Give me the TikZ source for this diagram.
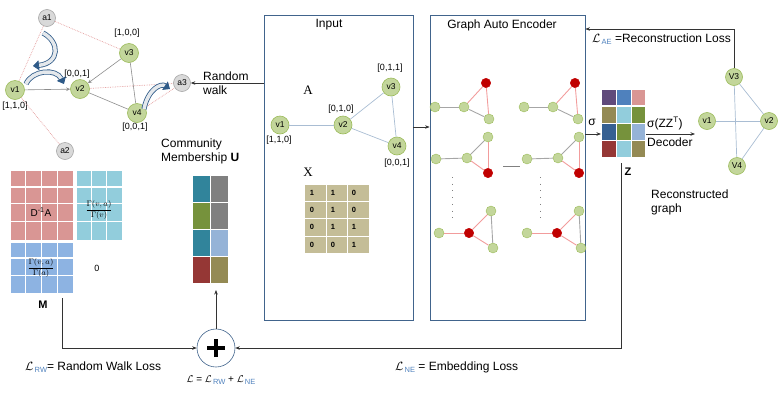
\documentclass[tikz,border=0pt]{standalone}
\usepackage{fontspec}
\setmainfont{Liberation Sans}
\newfontfamily\serifA{Liberation Serif}
\usetikzlibrary{arrows.meta}
\definecolor{vgreen}{HTML}{C3D69B}
\definecolor{vborder}{HTML}{9BBB59}
\definecolor{agray}{HTML}{D9D9D9}
\definecolor{aborder}{HTML}{A6A6A6}
\definecolor{dotpink}{HTML}{E39A9A}
\definecolor{edgegray}{HTML}{8C8C8C}
\definecolor{edgeblue}{HTML}{A9BDD3}
\definecolor{boxblue}{HTML}{41648C}
\definecolor{bendblue}{HTML}{2E5A88}
\definecolor{bendfill}{HTML}{E4E8EC}
\definecolor{tan}{HTML}{C4BD97}
\definecolor{gred}{HTML}{C00000}
\definecolor{gpink}{HTML}{F29C9C}
\definecolor{ggray}{HTML}{A6A6A6}
\definecolor{mred}{HTML}{D99694}
\definecolor{mcyan}{HTML}{92CDDC}
\definecolor{mblue}{HTML}{8DB3E2}
\definecolor{uteal}{HTML}{31849B}
\definecolor{ugray}{HTML}{808080}
\definecolor{ugreen}{HTML}{76923C}
\definecolor{ulblue}{HTML}{95B3D7}
\definecolor{udred}{HTML}{953735}
\definecolor{uolive}{HTML}{948A54}
\definecolor{zpurple}{HTML}{604A7B}
\definecolor{zblue}{HTML}{4F81BD}
\definecolor{zdblue}{HTML}{366092}
\definecolor{subblue}{HTML}{4F81BD}
\newcommand{\lsub}[1]{\raisebox{-2.5pt}{\fontsize{7.5}{8}\selectfont\color{subblue}\,#1}}
\begin{document}
\begin{tikzpicture}[x=1pt,y=-1pt,
  vn/.style={circle, draw=vborder, fill=vgreen, line width=0.6pt, inner sep=0pt, minimum size=19pt, font=\fontsize{8.5}{9}\selectfont},
  an/.style={vn, draw=aborder, fill=agray, minimum size=17pt},
  gn/.style={circle, draw=vborder, fill=vgreen, line width=0.4pt, inner sep=0pt, minimum size=10pt},
  rn/.style={gn, draw=gred, fill=gred, minimum size=9.5pt},
  gline/.style={line width=0.9pt},
  lbl/.style={font=\fontsize{9}{10}\selectfont, inner sep=0pt},
  txt/.style={font=\fontsize{12}{14}\selectfont, inner sep=0pt},
  box/.style={draw=boxblue, line width=0.8pt, minimum width=#1, minimum height=305pt, inner sep=0pt},
  cell/.style={draw=white, line width=0.8pt},
  arr/.style={-{Stealth[length=4.5pt,width=3.5pt]}, line width=0.6pt, draw=black!80},
  dotedge/.style={dotpink, densely dotted, line width=0.7pt},
  grayedge/.style={edgegray, line width=0.6pt},
  curvearrow/.style={draw=bendblue, double=bendfill, double distance=3.5pt, line width=0.8pt, -{Triangle[length=6pt,width=10pt]}}]
\useasboundingbox (0,0) rectangle (780,405);

% random walk graph
\node[an] (a1) at (47,18) {a1};
\node[an] (a2) at (65,151) {a2};
\node[an] (a3) at (182,83) {a3};
\node[vn] (v1) at (15,90) {v1};
\node[vn] (v2) at (80,89) {v2};
\node[vn] (v3) at (129,53) {v3};
\node[vn] (v4) at (137,113) {v4};
\node[lbl] at (127,33) {[1,0,0]};
\node[lbl] at (77,74) {[0,0,1]};
\node[lbl] at (15,106) {[1,1,0]};
\node[lbl] at (135,127) {[0,0,1]};
\draw[dotedge] (a1) -- (v1);
\draw[dotedge] (a1) -- (v3);
\draw[dotedge] (v1) -- (a2);
\draw[dotedge] (v2) -- (a3);
\draw[dotedge] (v4) -- (a3);
\draw[grayedge, -{Stealth[length=4pt,width=3.5pt]}] (v1) -- (v2);
\draw[grayedge, -{Stealth[length=4pt,width=3.5pt]}] (v3) -- (v2);
\draw[grayedge] (v2) -- (v4);
\draw[grayedge] (v3) -- (v4);
\draw[curvearrow] (43,33) .. controls (60,42) and (60,63) .. (33,66);
\draw[curvearrow] (26,84) .. controls (32,70) and (56,68) .. (64,84);
\draw[curvearrow] (144,109) .. controls (148,89) and (161,83) .. (170,89);
\node[txt, anchor=west, align=left] (rwtext) at (203,83) {Random\\walk};

% community membership
\node[txt, anchor=west, align=left] (utext) at (161,151) {Community\\Membership \textbf{U}};
\foreach \ya/\yb/\ca/\cb in {175/202/uteal/ugray, 202/229/ugreen/ugray, 229/256/uteal/ulblue, 256/283/udred/uolive} {
  \draw[cell, fill=\ca] (192,\ya) rectangle (210,\yb);
  \draw[cell, fill=\cb] (210,\ya) rectangle (228,\yb);
}
\coordinate (ubot) at (216,290);

% matrix M
\foreach \c in {0,...,3} {
  \foreach \ya/\yb in {170/186,187/203,203/221,221/240}
    \draw[cell, fill=mred] ({10+\c*15.75},\ya) rectangle ({10+(\c+1)*15.75},\yb);
  \foreach \ya/\yb in {242/257,258/275,275/293}
    \draw[cell, fill=mblue] ({10+\c*15.75},\ya) rectangle ({10+(\c+1)*15.75},\yb);
}
\foreach \c in {0,1,2}
  \foreach \ya/\yb in {170/186,187/203,203/221,221/240}
    \draw[cell, fill=mcyan] ({76+\c*15.33},\ya) rectangle ({76+(\c+1)*15.33},\yb);
\node[font=\fontsize{10}{11}\selectfont, inner sep=0pt] (dinv) at (41,212) {D\textsuperscript{-1}A};
\node[font=\fontsize{8}{9}\selectfont, inner sep=0pt] (gv) at (99,210) {$\displaystyle\frac{\Gamma(v,a)}{\Gamma(v)}$};
\node[font=\fontsize{8}{9}\selectfont, inner sep=0pt] (ga) at (41,268) {$\displaystyle\frac{\Gamma(v,a)}{\Gamma(a)}$};
\node[font=\fontsize{9}{10}\selectfont, inner sep=0pt] (zero) at (97,268) {0};
\node[font=\fontsize{11}{12}\selectfont\bfseries, inner sep=0pt] (mlbl) at (43,305) {M};
\coordinate (mout) at (62,298);

% input box
\node[box=149pt] (input) at (338.5,167.5) {};
\node[txt] (intitle) at (329,25) {Input};
\node[vn, minimum size=18pt] (i1) at (280,125) {v1};
\node[vn, minimum size=18pt] (i2) at (343,125) {v2};
\node[vn, minimum size=18pt] (i3) at (391,87) {v3};
\node[vn, minimum size=18pt] (i4) at (397,146) {v4};
\draw[edgeblue, line width=0.7pt] (i1) -- (i2);
\draw[edgeblue, line width=0.7pt] (i2) -- (i3);
\draw[edgeblue, line width=0.7pt] (i2) -- (i4);
\draw[edgeblue, line width=0.7pt] (i3) -- (i4);
\node[lbl] at (279,140) {[1,1,0]};
\node[lbl] at (341,109) {[0,1,0]};
\node[lbl] at (390,68) {[0,1,1]};
\node[lbl] at (397,163) {[0,0,1]};
\node[font=\serifA\fontsize{13}{14}\selectfont, inner sep=0pt] (alabel) at (308,90) {A};
\node[font=\serifA\fontsize{13}{14}\selectfont, inner sep=0pt] (xlabel) at (308,172) {X};
\foreach \ya/\yb/\p/\q/\r in {184/201/1/1/0, 201/218/0/1/0, 218/236/0/1/1, 236/253/0/0/1} {
  \draw[cell, fill=tan] (304,\ya) rectangle (326,\yb);
  \draw[cell, fill=tan] (326,\ya) rectangle (347,\yb);
  \draw[cell, fill=tan] (347,\ya) rectangle (369,\yb);
  \node[font=\fontsize{7.5}{8}\selectfont\bfseries, inner sep=0pt] at (312,{(\ya+\yb)/2}) {\p};
  \node[font=\fontsize{7.5}{8}\selectfont\bfseries, inner sep=0pt] at (333,{(\ya+\yb)/2}) {\q};
  \node[font=\fontsize{7.5}{8}\selectfont\bfseries, inner sep=0pt] at (354,{(\ya+\yb)/2}) {\r};
}

% graph auto encoder box
\node[box=155pt] (gae) at (507.5,167.5) {};
\node[txt] (gaetitle) at (502,25) {Graph Auto Encoder};
\foreach \s in {0,89} {
  \begin{scope}[xshift=\s]
    \node[gn] (pl\s) at (435,107) {};
    \node[gn] (pc\s) at (464,107) {};
    \node[rn] (pt\s) at (486,83) {};
    \node[gn] (pb\s) at (489,119) {};
    \draw[gline, ggray] (pl\s) -- (pc\s);
    \draw[gline, gpink] (pc\s) -- (pt\s);
    \draw[gline, ggray] (pc\s) -- (pb\s);
    \draw[gline, gpink] (pt\s) -- (pb\s);
  \end{scope}
}
\foreach \s in {0,91} {
  \begin{scope}[xshift=\s]
    \node[gn] (ql\s) at (436,159) {};
    \node[gn] (qc\s) at (467,158) {};
    \node[gn] (qt\s) at (488,137) {};
    \node[rn] (qb\s) at (488,173) {};
    \draw[gline, ggray] (ql\s) -- (qc\s);
    \draw[gline, ggray] (qc\s) -- (qt\s);
    \draw[gline, gpink] (qc\s) -- (qb\s);
    \draw[gline, gpink] (qt\s) -- (qb\s);
  \end{scope}
}
\foreach \s in {0,88} {
  \begin{scope}[xshift=\s]
    \node[gn] (sl\s) at (439,233) {};
    \node[rn] (sc\s) at (469,233) {};
    \node[gn] (st\s) at (491,211) {};
    \node[gn] (sb\s) at (493,248) {};
    \draw[gline, gpink] (sl\s) -- (sc\s);
    \draw[gline, gpink] (sc\s) -- (st\s);
    \draw[gline, gpink] (sc\s) -- (sb\s);
    \draw[gline, ggray] (st\s) -- (sb\s);
    \draw[gray, dash pattern=on 0.7pt off 6pt] (452,177) -- (452,223);
  \end{scope}
}
\draw[gray, line width=0.6pt] (503,166) -- (520,166);

% embedding Z
\foreach \ya/\yb/\ca/\cb/\cc in {89/105/zpurple/zblue/mred, 106/123/uolive/mcyan/ugreen, 123/140/zdblue/ugreen/ulblue, 140/157/udred/mcyan/uolive} {
  \draw[cell, fill=\ca] (601,\ya) rectangle (616,\yb);
  \draw[cell, fill=\cb] (616,\ya) rectangle (631,\yb);
  \draw[cell, fill=\cc] (631,\ya) rectangle (645,\yb);
}
\coordinate (zin) at (601,134);
\node[font=\fontsize{11}{12}\selectfont\bfseries, inner sep=0pt] (zlbl) at (628,172) {Z};
\node[txt] (sigma) at (592,122) {σ};
\coordinate (zout) at (621,163);

% decoder and reconstructed graph
\coordinate (decin) at (646,134);
\coordinate (decout) at (695,134);
\node[txt, anchor=south west] (dectop) at (647,130) {σ(ZZ\textsuperscript{T})};
\node[txt, anchor=north west] (decbot) at (647,138) {Decoder};
\node[vn, minimum size=17pt] (r3) at (734,77) {V3};
\node[vn, minimum size=17pt] (r1) at (707,121) {v1};
\node[vn, minimum size=17pt] (r2) at (769,121) {v2};
\node[vn, minimum size=17pt] (r4) at (737,166) {V4};
\draw[edgeblue, line width=0.7pt] (r3) -- (r2);
\draw[edgeblue, line width=0.7pt] (r1) -- (r2);
\draw[edgeblue, line width=0.7pt] (r3) -- (r4);
\draw[edgeblue, line width=0.7pt] (r4) -- (r2);
\node[txt, anchor=west, align=left] (rectext) at (651,202) {Reconstructed\\graph};

% losses
\node[circle, draw=boxblue, line width=0.6pt, minimum size=38pt, inner sep=0pt] (sum) at (216,348) {};
\draw[line width=3.5pt] ([xshift=-9pt]sum.center) -- ([xshift=9pt]sum.center);
\draw[line width=3.5pt] ([yshift=-9pt]sum.center) -- ([yshift=9pt]sum.center);
\coordinate (aeline) at (0,29);
\node[txt, anchor=west] (aeloss) at (592,39) {$\mathcal{L}$\lsub{AE} =Reconstruction Loss};
\node[txt, anchor=west] (rwloss) at (25,367) {$\mathcal{L}$\lsub{RW}= Random Walk Loss};
\node[font=\fontsize{10}{11}\selectfont, inner sep=0pt] (totloss) at (221,380) {$\mathcal{L}$ = $\mathcal{L}$\lsub{RW} + $\mathcal{L}$\lsub{NE}};
\node[txt, anchor=west] (neloss) at (395,367) {$\mathcal{L}$\lsub{NE} = Embedding Loss};

% connectors
\draw[arr] (input.west |- a3) -- (a3);
\coordinate (mid) at (0,127);
\draw[arr] (input.east |- mid) -- (gae.west |- mid);
\draw[arr] (gae.east |- zin) -- (zin);
\draw[arr] (decin) -- (decout);
\draw[arr] (r3.north) -- (r3.north |- aeline) -- (gae.east |- aeline);
\draw[arr] (mout) |- (sum);
\draw[arr] (zout) |- (sum);
\draw[arr] (sum) -- (ubot);
\end{tikzpicture}
\end{document}
